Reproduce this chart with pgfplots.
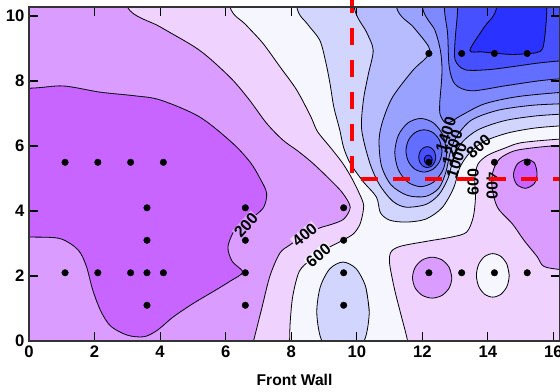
\documentclass[border=0pt]{standalone}
\usepackage{pgfplots}
\pgfplotsset{compat=1.18}
\usepackage{fontspec}
\setmainfont{Liberation Sans}
\definecolor{c0}{RGB}{200,100,255}
\definecolor{c1}{RGB}{218,156,255}
\definecolor{c2}{RGB}{240,210,255}
\definecolor{c3}{RGB}{246,246,255}
\definecolor{c4}{RGB}{210,214,255}
\definecolor{c5}{RGB}{182,188,255}
\definecolor{c6}{RGB}{154,162,255}
\definecolor{c7}{RGB}{126,136,255}
\definecolor{c8}{RGB}{98,110,255}
\definecolor{c9}{RGB}{70,80,255}
\definecolor{c10}{RGB}{42,50,255}
\begin{document}
\begin{tikzpicture}
\begin{axis}[
  scale only axis, width=398.25pt, height=250.5pt,
  xmin=0, xmax=16.2, ymin=0, ymax=10.28,
  xtick={0,2,...,16}, ytick={0,2,...,10},
  tick align=inside, major tick length=6.5pt,
  axis on top, clip mode=individual,
  axis background/.style={fill=c3},
  axis line style={line width=0.9pt, black!80},
  tick style={line width=0.9pt, black},
  /pgf/number format/assume math mode=true,
  tick label style={font=\bfseries\fontsize{12.5}{15}\selectfont},
  xlabel={Front Wall},
  xlabel style={at={(axis description cs:0.5,0)}, anchor=base, yshift=-33.5pt, font=\bfseries\fontsize{11.7}{14}\selectfont},
  cf/.style={smooth, draw=black, line width=0.6pt, fill=#1},
  every axis plot/.append style={no marks},
]
% ---- sublevel regions (west)
\addplot[cf=c2] coordinates {(5.85,12) (6.13,10.28) (6.6,9.75) (7.13,9.17) (7.65,8.45) (8.17,7.72) (8.6,6.9) (8.8,6.45) (9.2,5.95) (9.57,5.47) (9.88,4.95) (10.18,4.3) (10.2,4.03) (10.1,3.6) (9.9,3.3) (9.57,3.1) (9.1,2.85) (8.6,2.5) (8.25,2.15) (8.05,1.4) (7.97,0.6) (7.95,0) (7.93,-0.6) (-2,-2) (-2,12)} -- cycle;
\addplot[cf=c1] coordinates {(2.75,12) (3.0,10.28) (4.0,9.67) (5.2,8.95) (6.13,8.12) (6.7,7.45) (7.25,6.7) (7.75,6.18) (8.2,5.85) (8.66,5.47) (9.2,4.95) (9.57,4.55) (9.8,4.12) (9.6,3.75) (9.2,3.58) (8.87,3.48) (8.4,3.25) (7.95,2.95) (7.65,2.7) (7.35,2.0) (7.1,1.0) (6.85,0) (6.7,-0.6) (-2,-2) (-2,12)} -- cycle;
\addplot[cf=c0] coordinates {(-2,7.8) (0,7.78) (1.04,7.85) (2.16,7.66) (3.2,7.55) (4.0,7.42) (5.2,6.9) (6.2,6.1) (6.75,5.5) (7.05,5.0) (7.25,4.55) (7.15,4.1) (6.75,3.75) (6.3,3.45) (6.07,2.9) (6.2,2.45) (6.52,2.12) (6.15,1.85) (5.7,1.57) (5.0,1.15) (4.4,0.74) (3.9,0.32) (3.5,0.13) (3.0,0.18) (2.5,0.45) (2.2,0.9) (1.95,1.55) (1.75,2.3) (1.5,2.8) (0.95,3.15) (0,3.2) (-2,3.2)} -- cycle;
% ---- sublevel regions (east)
\addplot[cf=c2] coordinates {(11.6,-2) (11.6,-0.6) (11.55,0) (11.35,0.8) (11.15,1.6) (11.0,2.4) (11.05,2.75) (11.35,2.92) (12.2,3.08) (12.9,3.2) (13.35,3.35) (13.55,3.8) (13.62,4.4) (13.6,5.0) (13.7,5.45) (14.0,5.72) (14.5,5.93) (15.0,6.1) (16.0,6.2) (16.9,6.25) (18,6.3) (18,-2)} -- cycle;
\addplot[cf=c1] coordinates {(18,2.1) (16.9,2.15) (16.2,2.2) (15.7,2.3) (15.5,2.6) (15.1,3.1) (14.75,3.6) (14.3,4.1) (14.13,4.7) (14.15,5.2) (14.35,5.6) (14.8,5.85) (15.5,5.96) (16.2,6.02) (16.9,6.05) (18,6.05)} -- cycle;
\addplot[cf=c0] coordinates {(15.2,5.6) (15.42,5.48) (15.5,5.15) (15.42,4.85) (15.15,4.7) (14.88,4.82) (14.78,5.12) (14.9,5.45) (15.2,5.6) (15.42,5.48)};
\addplot[cf=c1] coordinates {(12.9,1.95) (12.82,2.265) (12.6,2.496) (12.3,2.58) (12.0,2.496) (11.78,2.265) (11.7,1.95) (11.78,1.635) (12.0,1.404) (12.3,1.32) (12.6,1.404) (12.82,1.635) (12.9,1.95) (12.82,2.265)};
\addplot[cf=c3] coordinates {(14.65,2.02) (14.583,2.355) (14.4,2.6) (14.15,2.69) (13.9,2.6) (13.717,2.355) (13.65,2.02) (13.717,1.685) (13.9,1.44) (14.15,1.35) (14.4,1.44) (14.583,1.685) (14.65,2.02) (14.583,2.355)};
% ---- superlevel regions
\addplot[cf=c4] coordinates {(10.38,0.9) (10.273,1.665) (9.98,2.225) (9.58,2.43) (9.18,2.225) (8.887,1.665) (8.78,0.9) (8.887,0.135) (9.18,-0.425) (9.58,-0.63) (9.98,-0.425) (10.273,0.135) (10.38,0.9) (10.273,1.665)};
\addplot[cf=c4] coordinates {(8.05,12) (8.17,10.28) (8.5,9.75) (8.87,9.26) (9.05,8.6) (9.18,7.94) (9.3,7.2) (9.48,6.5) (9.6,5.95) (9.8,5.47) (10.2,4.9) (10.6,4.43) (10.72,3.95) (11.0,3.72) (11.5,3.66) (12.1,3.75) (12.6,4.1) (12.95,4.7) (13.15,5.35) (13.45,5.8) (13.9,6.15) (14.6,6.4) (15.4,6.55) (16.2,6.62) (16.9,6.65) (18,6.7) (18,12)} -- cycle;
\addplot[cf=c5] coordinates {(9.9,12) (9.92,10.28) (10.3,9.5) (10.5,8.95) (10.35,8.2) (10.2,7.4) (10.15,6.5) (10.4,5.47) (10.7,4.8) (11.1,4.3) (11.5,4.12) (12.1,4.2) (12.5,4.5) (12.78,5.0) (12.95,5.6) (13.2,6.1) (13.7,6.5) (14.5,6.78) (15.4,6.92) (16.2,6.98) (16.9,7.0) (18,7.05) (18,12)} -- cycle;
\addplot[cf=c6] coordinates {(11.2,12) (11.21,10.28) (11.72,9.67) (12.1,9.2) (12.23,8.95) (12.1,8.7) (11.72,8.34) (11.1,7.52) (10.8,6.8) (10.68,6.2) (10.75,5.4) (11.05,4.8) (11.55,4.48) (12.1,4.45) (12.5,4.7) (12.72,5.2) (12.85,5.8) (13.05,6.3) (13.5,6.8) (14.3,7.1) (15.3,7.25) (16.2,7.3) (16.9,7.32) (18,7.35) (18,12)} -- cycle;
\addplot[cf=c7] coordinates {(11.95,12) (12.0,10.28) (12.38,9.57) (12.55,8.95) (12.6,8.4) (12.58,7.93) (12.53,7.3) (12.55,6.95) (12.75,6.7) (13.2,6.95) (13.9,7.3) (14.9,7.52) (16.2,7.65) (16.9,7.68) (18,7.7) (18,12)} -- cycle;
\addplot[cf=c8] coordinates {(12.65,12) (12.67,10.28) (12.77,9.47) (12.82,8.44) (13.0,7.9) (13.5,7.7) (14.5,7.85) (15.5,8.0) (16.2,8.07) (16.9,8.1) (18,8.12) (18,12)} -- cycle;
\addplot[cf=c9] coordinates {(13.1,12) (13.08,10.28) (13.0,9.26) (13.0,8.65) (13.3,8.35) (14.0,8.35) (14.8,8.45) (15.5,8.55) (16.2,8.62) (16.9,8.65) (18,8.67) (18,12)} -- cycle;
\addplot[cf=c10] coordinates {(14.3,12) (14.27,10.28) (13.88,9.65) (13.45,8.95) (13.8,8.9) (14.2,8.86) (14.7,8.82) (15.2,8.84) (15.5,8.88) (15.67,9.0) (15.75,9.5) (15.8,10.28) (15.82,12)} -- cycle;
% peak loops
\addplot[cf=c7] coordinates {(12.74,5.8) (12.634,6.325) (12.345,6.709) (11.95,6.85) (11.555,6.709) (11.266,6.325) (11.16,5.8) (11.266,5.275) (11.555,4.891) (11.95,4.75) (12.345,4.891) (12.634,5.275) (12.74,5.8) (12.634,6.325)};
\addplot[cf=c8] coordinates {(12.6,5.85) (12.526,6.175) (12.325,6.413) (12.05,6.5) (11.775,6.413) (11.574,6.175) (11.5,5.85) (11.574,5.525) (11.775,5.287) (12.05,5.2) (12.325,5.287) (12.526,5.525) (12.6,5.85) (12.526,6.175)};
\addplot[cf=c9] coordinates {(12.41,5.66) (12.375,5.82) (12.28,5.937) (12.15,5.98) (12.02,5.937) (11.925,5.82) (11.89,5.66) (11.925,5.5) (12.02,5.383) (12.15,5.34) (12.28,5.383) (12.375,5.5) (12.41,5.66) (12.375,5.82)};
\addplot[cf=c10] coordinates {(12.3,5.58) (12.284,5.65) (12.24,5.701) (12.18,5.72) (12.12,5.701) (12.076,5.65) (12.06,5.58) (12.076,5.51) (12.12,5.459) (12.18,5.44) (12.24,5.459) (12.284,5.51) (12.3,5.58) (12.284,5.65)};
% ---- sample points
\addplot[only marks, mark=diamond*, mark size=2.5pt, black, mark options={line width=0.2pt}] coordinates {
(1.1,5.5) (2.1,5.5) (3.1,5.5) (4.1,5.5)
(3.6,4.1) (3.6,3.1) (3.6,2.1) (3.6,1.1)
(1.1,2.1) (2.1,2.1) (3.1,2.1) (4.1,2.1)
(6.6,4.1) (6.6,3.1) (6.6,2.1) (6.6,1.1)
(9.6,4.1) (9.6,3.1) (9.6,2.1) (9.6,1.1)
(12.2,2.1) (13.2,2.1) (14.2,2.1) (15.2,2.1)
(12.2,8.85) (13.2,8.85) (14.2,8.85) (15.2,8.85)
(12.2,5.5) (14.2,5.5) (15.2,5.5)};
% ---- contour labels
\begin{scope}[every node/.style={font=\bfseries\fontsize{12}{14}\selectfont, inner sep=0.5pt}]
\node[rotate=48, fill=c1] at (axis cs:6.62,3.57) {200};
\node[rotate=40, fill=c2] at (axis cs:8.41,3.27) {400};
\node[rotate=40, fill=c3] at (axis cs:8.83,2.63) {600};
\node[rotate=72] at (axis cs:12.72,6.35) {1400};
\node[rotate=72] at (axis cs:12.92,5.95) {1200};
\node[rotate=72] at (axis cs:13.05,5.55) {1000};
\node[rotate=42] at (axis cs:13.72,5.98) {800};
\node[rotate=90] at (axis cs:13.55,4.9) {600};
\node[rotate=-90] at (axis cs:14.13,4.77) {400};
\end{scope}
\draw[red, line width=3pt, dash pattern=on 12.75pt off 11.25pt] (axis cs:9.85,10.62) -- (axis cs:9.85,5.0) -- (axis cs:16.8,5.0);
\end{axis}
\pgfresetboundingbox
\path[use as bounding box] (-21.75pt,-38.25pt) rectangle (398.25pt,255.75pt);
\end{tikzpicture}
\end{document}
